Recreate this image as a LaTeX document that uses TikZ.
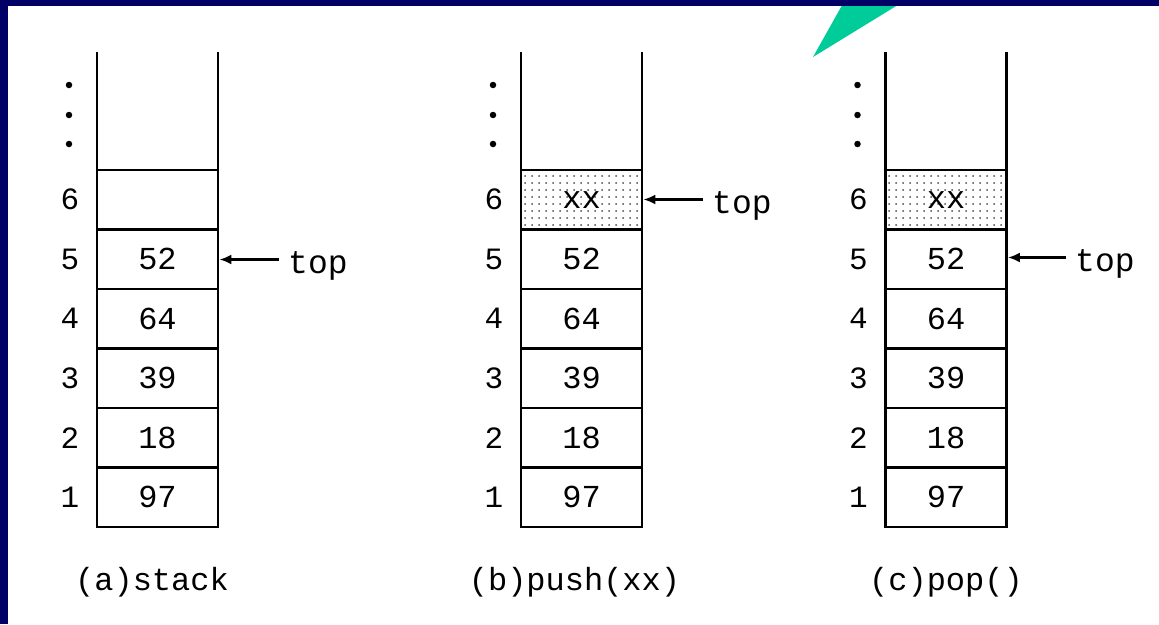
\documentclass[tikz,border=0pt]{standalone}
\usepackage{fontspec}
\setmonofont{Liberation Mono}
\usetikzlibrary{arrows.meta,patterns.meta}
\definecolor{navy}{RGB}{0,0,102}
\definecolor{teal2}{RGB}{0,204,153}
\tikzset{
  cell/.style={draw, line width=2.8pt, minimum width=121pt, minimum height=59.5pt, inner sep=0pt,
    outer sep=0pt, font=\ttfamily\fontsize{32}{36}\selectfont},
  shaded/.style={pattern={Dots[radius=1pt,distance=7pt]}, pattern color=black!70},
  idx/.style={font=\ttfamily\fontsize{31}{36}\selectfont, inner sep=0pt},
  wall/.style={line width=2.8pt},
  ptr/.style={line width=2.8pt, shorten >=1.4pt, -{Latex[length=12pt,width=10pt]}},
  toplbl/.style={font=\ttfamily\fontsize{33}{36}\selectfont, anchor=base west, inner sep=0pt},
  captext/.style={font=\ttfamily\fontsize{32}{36}\selectfont, anchor=base, inner sep=0pt},
  dotmark/.style={circle, fill, inner sep=0pt, minimum size=6.5pt}
}
\begin{document}
\begin{tikzpicture}[x=1pt,y=-1pt]
\useasboundingbox (0,0) rectangle (1159,624);
\fill[white] (0,0) rectangle (1159,624);
% teal triangle and navy frame
\fill[teal2] (845,0) -- (906,0) -- (813,57) -- cycle;
\fill[navy] (0,0) rectangle (1159,6);
\fill[navy] (0,0) rectangle (8,624);

% stacks
\foreach \s/\cx in {a/157.5, b/581.5, c/946}{
  \node[cell] (\s1) at (\cx,497.25) {97};
  \node[cell] (\s2) at (\cx,437.75) {18};
  \node[cell] (\s3) at (\cx,378.25) {39};
  \node[cell] (\s4) at (\cx,318.75) {64};
  \node[cell] (\s5) at (\cx,259.25) {52};
  \coordinate (\s TL) at (\cx-60.5,52);
  \coordinate (\s TR) at (\cx+60.5,52);
  \foreach \k/\yy in {1/497.25,2/437.75,3/378.25,4/318.75,5/259.25,6/199.75}{
    \node[idx] (\s i\k) at (\cx-87.5,\yy) {\k};
  }
  \node[dotmark] (\s d1) at (\cx-88.5,85) {};
  \node[dotmark] (\s d2) at (\cx-88.5,115) {};
  \node[dotmark] (\s d3) at (\cx-88.5,144) {};
}
\node[cell] (a6) at (157.5,199.75) {};
\node[cell,shaded] (b6) at (581.5,199.75) {xx};
\node[cell,shaded] (c6) at (946,199.75) {xx};
\foreach \s in {a,b,c}{
  \draw[wall] (\s6.north west) -- (\s TL);
  \draw[wall] (\s6.north east) -- (\s TR);
}

% top pointers
\coordinate (ta) at (279,259.5);
\coordinate (tb) at (703,199.5);
\coordinate (tc) at (1066,257.5);
\draw[ptr] (ta) -- (a5.east |- ta);
\draw[ptr] (tb) -- (b6.east |- tb);
\draw[ptr] (tc) -- (c5.east |- tc);
\node[toplbl] (la) at (288,273) {top};
\node[toplbl] (lb) at (712,213) {top};
\node[toplbl] (lc) at (1075,271) {top};

% captions
\node[captext] (capa) at (152,590) {(a)stack};
\node[captext] (capb) at (574.5,590) {(b)push(xx)};
\node[captext] (capc) at (946,590) {(c)pop()};
\end{tikzpicture}
\end{document}
